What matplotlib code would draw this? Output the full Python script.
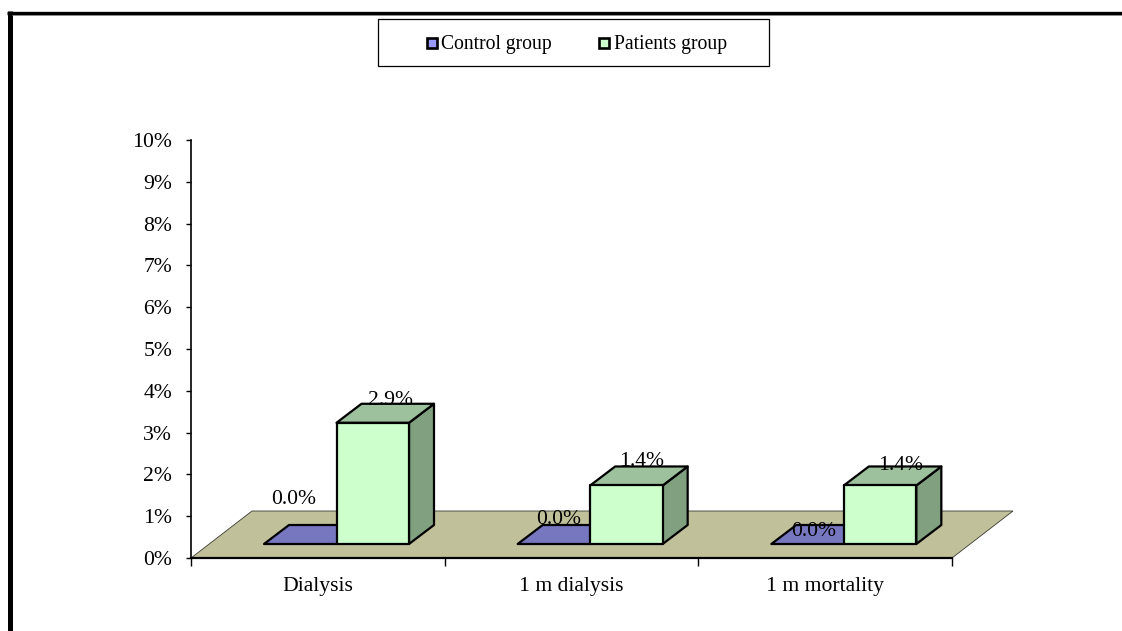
import matplotlib
matplotlib.use('Agg')
import matplotlib.pyplot as plt
from matplotlib.lines import Line2D
from matplotlib.patches import Polygon, Rectangle

W, H = 1122, 631

categories = ['Dialysis', '1 m dialysis', '1 m mortality']
control = [0.0, 0.0, 0.0]
patients = [2.9, 1.4, 1.4]
y_ticks = list(range(0, 11))

plt.rcParams['font.family'] = ['Liberation Serif', 'DejaVu Serif']
plt.rcParams['font.size'] = 15.6

fig = plt.figure(figsize=(W / 100, H / 100), dpi=100, facecolor='w')


def figX(px):
  return px / W


def figY(py):
  return 1 - py / H


# plot area, placed in pixels
left, right, top, bottom = 191, 952, 140, 558
ax = fig.add_axes([figX(left), figY(bottom), (right - left) / W, (bottom - top) / H])
ax.set_xlim(0, 3)
ax.set_ylim(0, 10)
ax.patch.set_visible(False)
for s in ['top', 'right']:
  ax.spines[s].set_visible(False)
ax.spines['left'].set_linewidth(1.2)
ax.spines['bottom'].set_linewidth(1.6)

ux = (right - left) / 3  # pixels per category
uy = (bottom - top) / 10  # pixels per percent

# floor of the 3D chart
floorDx, floorDy = 61 / ux, 47 / uy
ax.add_patch(Polygon([(0, 0), (3, 0), (3 + floorDx, floorDy), (floorDx, floorDy)],
                     closed=True, fc='#C0C09A', ec='#3A3A30', lw=0.6, clip_on=False, zorder=1))

barW = 72.5 / ux
lift = 14 / uy  # bars stand a little behind the front edge
depthX, depthY = 25 / ux, 19 / uy
start = 73 / ux
edge = dict(ec='black', lw=1.6, clip_on=False, joinstyle='round')


def bar3d(x0, h, front, topc, side):
  x1 = x0 + barW
  y0 = lift
  y1 = lift + h
  ax.add_patch(Polygon([(x1, y0), (x1 + depthX, y0 + depthY), (x1 + depthX, y1 + depthY), (x1, y1)],
                       closed=True, fc=side, zorder=3, **edge))
  ax.add_patch(Polygon([(x0, y1), (x1, y1), (x1 + depthX, y1 + depthY), (x0 + depthX, y1 + depthY)],
                       closed=True, fc=topc, zorder=3, **edge))
  if h > 0:
    ax.add_patch(Rectangle((x0, y0), barW, h, fc=front, zorder=4, **edge))


for i in range(len(categories)):
  bar3d(i + start, control[i], '#9999FF', '#7777C0', '#6A6AA8')
  bar3d(i + start + barW, patients[i], '#CCFFCC', '#9DC09D', '#80A080')

# value labels, pixel offsets from the front top centre of each bar
controlOff = [(-7, 45), (5, 25), (6, 12)]
patientOff = [(18, 22), (15, 24), (20, 20)]
for i in range(len(categories)):
  xc = i + start + barW / 2
  ax.annotate(f'{control[i]:.1f}%', (xc, lift + control[i]), xytext=(controlOff[i][0] * 0.72, controlOff[i][1] * 0.72),
              textcoords='offset points', ha='center', va='center', zorder=6, annotation_clip=False)
  xc = i + start + barW * 1.5
  ax.annotate(f'{patients[i]:.1f}%', (xc, lift + patients[i]), xytext=(patientOff[i][0] * 0.72, patientOff[i][1] * 0.72),
              textcoords='offset points', ha='center', va='center', zorder=6, annotation_clip=False)

ax.set_yticks(y_ticks)
ax.set_yticklabels([f'{v}%' for v in y_ticks])
ax.set_xticks(range(len(categories) + 1))
ax.set_xticklabels([])
ax.tick_params(axis='y', length=3.6, width=1.0, pad=10)
ax.tick_params(axis='x', length=5.5, width=1.0)
for i, c in enumerate(categories):
  ax.text(i + 0.5 - 0.001, -0.68, c, ha='center', va='center', clip_on=False)

# outer frame
fig.add_artist(Line2D([figX(9.5), figX(9.5)], [figY(11), 0], color='black', lw=3.6, solid_capstyle='butt'))
fig.add_artist(Line2D([figX(7), 1], [figY(12.5), figY(12.5)], color='black', lw=2.4, solid_capstyle='butt'))
fig.add_artist(Line2D([figX(12), 1], [figY(14.5), figY(14.5)], color='#8A8A8A', lw=0.7, solid_capstyle='butt'))

# legend box
fig.add_artist(Rectangle((figX(378), figY(65.5)), 390.5 / W, 46 / H, fc='w', ec='black', lw=0.9,
                         transform=fig.transFigure))
legendItems = [(427, 441, 'Control group', '#9999FF'), (599, 614, 'Patients group', '#CCFFCC')]
for bx, tx, lab, col in legendItems:
  fig.add_artist(Rectangle((figX(bx), figY(48)), 10 / W, 10 / H, fc=col, ec='black', lw=1.9,
                           transform=fig.transFigure))
  fig.text(figX(tx), figY(44), lab, ha='left', va='center', fontsize=14.1)

fig.savefig('out.png', dpi=100, facecolor='w')
